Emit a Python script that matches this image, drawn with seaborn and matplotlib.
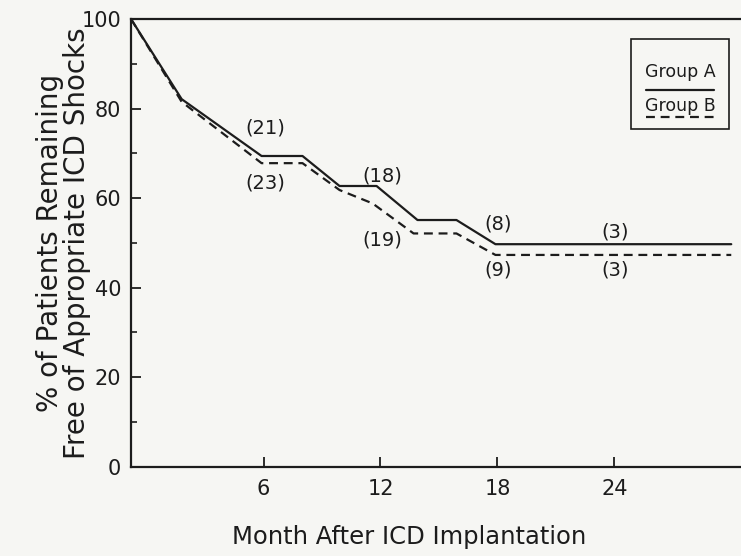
import numpy as np
import pandas as pd
import matplotlib.pyplot as plt
from matplotlib.lines import Line2D
from matplotlib.patches import Rectangle
import seaborn as sns

sns.set_style("ticks")
plt.rcParams['font.family'] = ['DejaVu Sans']

# survival curves (month, % free of shocks)
months_a = [-0.8, 1.8, 5.9, 8.0, 9.9, 11.8, 13.9, 15.9, 17.9, 30.0]
pct_a = [100, 82.1, 69.4, 69.4, 62.7, 62.7, 55.1, 55.1, 49.7, 49.7]
months_b = [-0.8, 1.8, 5.9, 8.0, 9.9, 11.6, 13.7, 15.9, 17.9, 30.0]
pct_b = [100, 81.5, 67.8, 67.8, 61.8, 58.8, 52.1, 52.1, 47.3, 47.3]

# patients at risk
risk_months = [6, 12, 18, 24]
risk_a = [21, 18, 8, 3]
risk_b = [23, 19, 9, 3]
risk_xshift = [0.1, 0.1, 0.05, 0.05]
risk_ya = [75.7, 64.9, 54.2, 52.4]
risk_yb = [63.4, 50.6, 43.9, 43.9]

xticks = [6, 12, 18, 24]
yticks = [0, 20, 40, 60, 80, 100]

df = pd.concat([
    pd.DataFrame({'month': months_a, 'pct': pct_a, 'group': 'Group A'}),
    pd.DataFrame({'month': months_b, 'pct': pct_b, 'group': 'Group B'}),
])

ink = '#1c1c1c'
bg = '#f6f6f3'

fig = plt.figure(figsize=(7.41, 5.56), dpi=100, facecolor=bg)
ax = fig.add_axes([131 / 741, 1 - 466.7 / 556, 1 - 131 / 741, (466.7 - 19) / 556])
ax.set_facecolor(bg)

sns.lineplot(data=df, x='month', y='pct', style='group', units='group',
             estimator=None, sort=False, color=ink, linewidth=1.6,
             dashes={'Group A': '', 'Group B': (4, 2.6)}, legend=False, ax=ax)

for m, dx, a, b, ya, yb in zip(risk_months, risk_xshift, risk_a, risk_b, risk_ya, risk_yb):
    ax.text(m + dx, ya, f'({a})', ha='center', va='center', fontsize=14, color=ink)
    ax.text(m + dx, yb, f'({b})', ha='center', va='center', fontsize=14, color=ink)

ax.set_xlim(-0.8, 30.5)
ax.set_ylim(0, 100)
ax.set_xticks(xticks)
ax.set_yticks(yticks)
ax.set_yticks([10, 30, 50, 70, 90], minor=True)
ax.tick_params(axis='both', which='major', direction='in', length=7, width=1.3,
               colors=ink, labelsize=15)
ax.tick_params(axis='y', which='minor', direction='in', length=4, width=1.2, color=ink)
ax.tick_params(axis='x', pad=9)
ax.tick_params(axis='y', pad=7)

for side in ['left', 'bottom', 'top']:
    ax.spines[side].set_linewidth(1.6)
    ax.spines[side].set_color(ink)
ax.spines['right'].set_visible(False)

ax.set_xlabel('Month After ICD Implantation', fontsize=17.5, color=ink)
ax.xaxis.set_label_coords(0.456, -0.13)
ax.set_ylabel('% of Patients Remaining\nFree of Appropriate ICD Shocks',
              fontsize=20, color=ink, linespacing=0.95)
ax.yaxis.set_label_coords(-0.066, 0.5)

# legend box: label above its line sample
ax.add_patch(Rectangle((0.820, 0.754), 0.160, 0.202, transform=ax.transAxes,
                       fill=False, edgecolor=ink, linewidth=1.2))
ax.text(0.901, 0.882, 'Group A', transform=ax.transAxes, ha='center', va='center',
        fontsize=12.5, color=ink)
ax.add_line(Line2D([0.845, 0.955], [0.842, 0.842], transform=ax.transAxes,
                   color=ink, linewidth=1.6))
ax.text(0.901, 0.806, 'Group B', transform=ax.transAxes, ha='center', va='center',
        fontsize=12.5, color=ink)
ax.add_line(Line2D([0.845, 0.955], [0.780, 0.780], transform=ax.transAxes,
                   color=ink, linewidth=1.6, dashes=(4, 2.6)))

fig.savefig('out.png', dpi=100, facecolor=bg)
